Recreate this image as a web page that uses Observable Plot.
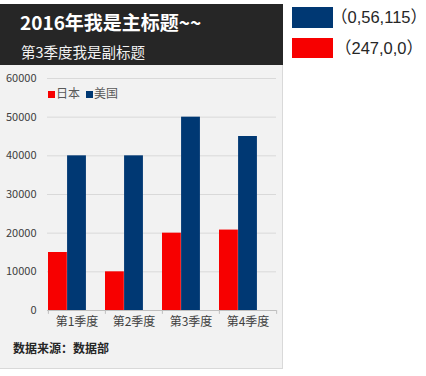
<!DOCTYPE html>
<html><head><meta charset="utf-8">
<script src="https://cdn.jsdelivr.net/npm/d3@7"></script>
<script src="https://cdn.jsdelivr.net/npm/@observablehq/plot@0.6"></script>
<style>
body{margin:0;background:#fff;font-family:"Noto Sans CJK SC",sans-serif;}
#card{position:absolute;left:0;top:4px;width:282px;height:364px;background:#f2f2f2;border-right:1px solid #d9d9d9;border-bottom:1px solid #d9d9d9;}
#header{position:absolute;left:0;top:0;width:283px;height:61px;background:#262626;}
#title{position:absolute;left:20px;top:8px;font-size:19px;line-height:19px;font-weight:bold;color:#fff;white-space:nowrap;}
#subtitle{position:absolute;left:21px;top:40px;font-size:14.5px;line-height:15px;color:#f2f2f2;white-space:nowrap;}
#chart{position:absolute;left:0;top:61px;}
#legend{position:absolute;left:48px;top:82px;font-size:12px;line-height:14px;color:#595959;white-space:nowrap;}
#legend span.sw{display:inline-block;width:7px;height:7px;margin-right:1px;vertical-align:0px;}
#legend span.item{margin-right:6px;}
#caption{position:absolute;left:13px;top:337px;font-size:12px;line-height:14px;font-weight:bold;color:#262626;white-space:nowrap;}
.swatch{position:absolute;left:292px;width:41px;}
.swlabel{position:absolute;font-family:"Liberation Sans","Noto Sans CJK SC",sans-serif;font-size:16.5px;line-height:17px;color:#262626;white-space:nowrap;}
</style></head>
<body>
<div id="card">
  <div id="header"><div id="title"></div><div id="subtitle"></div></div>
  <div id="chart"></div>
  <div id="legend"></div>
  <div id="caption"></div>
</div>
<div id="swatches"></div>
<script>
const title = "2016年我是主标题~~";
const subtitle = "第3季度我是副标题";
const caption = "数据来源：数据部";
const quarters = ["第1季度","第2季度","第3季度","第4季度"];
const seriesNames = ["日本","美国"];
const japan = [15000, 10000, 20000, 20800];
const usa = [40000, 40000, 50000, 45000];
const seriesColors = ["rgb(247,0,0)","rgb(0,56,115)"];
const yTicks = [0,10000,20000,30000,40000,50000,60000];
const swatchLabels = ["（0,56,115）","（247,0,0）"];

document.getElementById("title").textContent = title;
document.getElementById("subtitle").textContent = subtitle;
document.getElementById("caption").textContent = caption;

const rows = [];
quarters.forEach((q,i)=>{
  rows.push({q, s: seriesNames[0], v: japan[i]});
  rows.push({q, s: seriesNames[1], v: usa[i]});
});

const W = 282, ML = 47, MR = 6;
const bw = (W - ML - MR) / quarters.length;

const plot = Plot.plot({
  width: W, height: 269,
  marginLeft: ML, marginRight: MR, marginTop: 13, marginBottom: 24,
  style: {background: "transparent", fontFamily: "'Noto Sans CJK SC', sans-serif", color: "#595959"},
  x: {domain: quarters, padding: 0, axis: null},
  y: {domain: [0, 60000], axis: null},
  color: {domain: seriesNames, range: seriesColors},
  marks: [
    Plot.ruleY(yTicks.slice(1), {stroke: "#d9d9d9", strokeWidth: 1}),
    Plot.barY(rows.filter(d=>d.s===seriesNames[0]), {x: "q", y: "v", fill: "s", insetLeft: 0, insetRight: bw*2/3}),
    Plot.barY(rows.filter(d=>d.s===seriesNames[1]), {x: "q", y: "v", fill: "s", insetLeft: bw/3, insetRight: bw/3}),
    Plot.ruleY([0], {stroke: "#bfbfbf", strokeWidth: 1}),
    Plot.ruleX(quarters, {x: d=>d, dx: -bw/2, y1: 0, y2: -1000, stroke: "#bfbfbf"}),
    Plot.ruleX(quarters.slice(-1), {x: d=>d, dx: bw/2, y1: 0, y2: -1000, stroke: "#bfbfbf"}),
    Plot.axisY({ticks: yTicks, tickSize: 0, tickPadding: 11, fontSize: 11, tickFormat: d=>String(d), label: null, color: "#404040"}),
    Plot.axisX({tickSize: 0, tickPadding: 7, fontSize: 12, label: null, color: "#404040"})
  ]
});
document.getElementById("chart").appendChild(plot);

const lg = document.getElementById("legend");
seriesNames.forEach((n,i)=>{
  const it = document.createElement("span"); it.className="item";
  const sw = document.createElement("span"); sw.className="sw"; sw.style.background = seriesColors[i];
  it.appendChild(sw); it.appendChild(document.createTextNode(n));
  lg.appendChild(it);
});

const swWrap = document.getElementById("swatches");
const swTop = [7, 38], swH = [21, 20], swColor = [seriesColors[1], seriesColors[0]];
swatchLabels.forEach((t,i)=>{
  const r = document.createElement("div"); r.className="swatch";
  r.style.top = swTop[i]+"px"; r.style.height = swH[i]+"px"; r.style.background = swColor[i];
  swWrap.appendChild(r);
  const l = document.createElement("div"); l.className="swlabel";
  l.style.left = (i===0?331:335)+"px"; l.style.top = (swTop[i]+2)+"px";
  l.textContent = t;
  swWrap.appendChild(l);
});
</script>
</body></html>
